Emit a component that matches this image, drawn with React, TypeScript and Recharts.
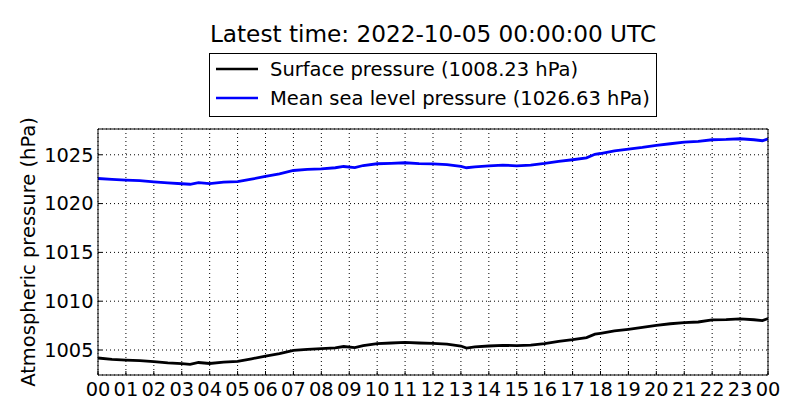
import React from 'react';
import { LineChart, Line, XAxis, YAxis, CartesianGrid, Legend } from 'recharts';

const hours = [
  0, 0.5, 1, 1.5, 2, 2.5, 3, 3.3, 3.6, 4, 4.5, 5, 5.5, 6, 6.5, 7, 7.5, 8, 8.5, 8.8,
  9.2, 9.5, 10, 10.5, 11, 11.5, 12, 12.5, 13, 13.2, 13.5, 14, 14.5, 15, 15.5, 16,
  16.5, 17, 17.5, 17.8, 18, 18.5, 19, 19.5, 20, 20.5, 21, 21.5, 22, 22.5, 23, 23.5,
  23.8, 24,
];

const surfacePressure = [
  1004.18, 1004.05, 1003.97, 1003.92, 1003.8, 1003.68, 1003.6, 1003.52, 1003.72, 1003.62,
  1003.75, 1003.84, 1004.1, 1004.38, 1004.62, 1004.97, 1005.07, 1005.14, 1005.22, 1005.36,
  1005.25, 1005.45, 1005.65, 1005.72, 1005.78, 1005.72, 1005.68, 1005.6, 1005.41, 1005.2,
  1005.33, 1005.41, 1005.48, 1005.44, 1005.5, 1005.65, 1005.89, 1006.06, 1006.27, 1006.62,
  1006.71, 1006.95, 1007.12, 1007.32, 1007.52, 1007.69, 1007.8, 1007.87, 1008.08, 1008.11,
  1008.18, 1008.1, 1008.02, 1008.23,
];

const meanSeaLevelPressure = [
  1022.57, 1022.48, 1022.4, 1022.35, 1022.22, 1022.12, 1022.03, 1021.98, 1022.15, 1022.05,
  1022.2, 1022.25, 1022.5, 1022.78, 1023.05, 1023.39, 1023.5, 1023.56, 1023.67, 1023.8,
  1023.68, 1023.9, 1024.08, 1024.12, 1024.18, 1024.1, 1024.07, 1024.0, 1023.8, 1023.67,
  1023.77, 1023.87, 1023.94, 1023.87, 1023.94, 1024.11, 1024.32, 1024.49, 1024.69, 1025.05,
  1025.13, 1025.41, 1025.58, 1025.75, 1025.96, 1026.13, 1026.3, 1026.37, 1026.54, 1026.57,
  1026.64, 1026.54, 1026.44, 1026.63,
];

const hourTicks = [
  0, 1, 2, 3, 4, 5, 6, 7, 8, 9, 10, 11, 12, 13, 14, 15, 16, 17, 18, 19, 20, 21, 22, 23, 24,
];
const hourLabels = [
  '00', '01', '02', '03', '04', '05', '06', '07', '08', '09', '10', '11', '12', '13', '14',
  '15', '16', '17', '18', '19', '20', '21', '22', '23', '00',
];
const pressureTicks = [1005, 1010, 1015, 1020, 1025];
const pressureDomain = [1002.44, 1027.64];
const seriesOrder = ['surface', 'msl'];

const titleText = 'Latest time: 2022-10-05 00:00:00 UTC';
const yLabelText = 'Atmospheric pressure (hPa)';

const data = hours.map((h, i) => ({
  hour: h,
  surface: surfacePressure[i],
  msl: meanSeaLevelPressure[i],
}));

const lastSurface = surfacePressure[surfacePressure.length - 1].toFixed(2);
const lastMsl = meanSeaLevelPressure[meanSeaLevelPressure.length - 1].toFixed(2);

const FONT = '"DejaVu Sans", Verdana, sans-serif';

function LegendBox(props: any) {
  const payload = props.payload || [];
  const ordered = seriesOrder
    .map((k) => payload.find((p: any) => p.dataKey === k))
    .filter(Boolean);
  return (
    <svg width={448} height={64} style={{ display: 'block' }}>
      <rect x={0.5} y={0.5} width={447} height={63} fill="#fff" stroke="#000" strokeWidth={1} />
      {ordered.map((p: any, i: number) => (
        <g key={i}>
          <line x1={7} x2={49} y1={16 + i * 29} y2={16 + i * 29} stroke={p.color} strokeWidth={2.5} />
          <text x={61} y={23 + i * 28.5} fontSize={19.5} fontFamily={FONT} fill="#000">
            {p.value}
          </text>
        </g>
      ))}
    </svg>
  );
}

export default function App() {
  return (
    <div style={{ position: 'absolute', left: 0, top: 0, width: 800, height: 420, background: '#fff' }}>
      <LineChart
        width={800}
        height={420}
        data={data}
        margin={{ top: 128, right: 31, bottom: 15, left: 38 }}
      >
        <CartesianGrid stroke="#000" strokeDasharray="1 3" strokeWidth={1} />
        <XAxis
          dataKey="hour"
          type="number"
          domain={[0, 24]}
          ticks={hourTicks}
          interval={0}
          tickFormatter={(v: number) => hourLabels[hourTicks.indexOf(v)]}
          height={30}
          tickSize={-4}
          tickMargin={11}
          axisLine={{ stroke: '#000', strokeWidth: 1 }}
          tickLine={{ stroke: '#000', strokeWidth: 1 }}
          tick={{ fill: '#000', fontSize: 19.4, fontFamily: FONT }}
        />
        <XAxis
          xAxisId="top"
          orientation="top"
          dataKey="hour"
          type="number"
          domain={[0, 24]}
          ticks={hourTicks}
          interval={0}
          height={1}
          tickSize={-4}
          tick={false}
          axisLine={{ stroke: '#000', strokeWidth: 1 }}
          tickLine={{ stroke: '#000', strokeWidth: 1 }}
        />
        <YAxis
          type="number"
          domain={pressureDomain}
          ticks={pressureTicks}
          interval={0}
          allowDataOverflow
          width={60}
          tickSize={-4}
          tickMargin={8.5}
          axisLine={{ stroke: '#000', strokeWidth: 1 }}
          tickLine={{ stroke: '#000', strokeWidth: 1 }}
          tick={{ fill: '#000', fontSize: 19.4, fontFamily: FONT }}
        />
        <YAxis
          yAxisId="right"
          orientation="right"
          type="number"
          domain={pressureDomain}
          ticks={pressureTicks}
          interval={0}
          allowDataOverflow
          width={1}
          tickSize={-4}
          tick={false}
          axisLine={{ stroke: '#000', strokeWidth: 1 }}
          tickLine={{ stroke: '#000', strokeWidth: 1 }}
        />
        <Legend
          layout="vertical"
          align="center"
          verticalAlign="middle"
          wrapperStyle={{ left: 209, top: 53, width: 448, height: 64 }}
          content={LegendBox}
        />
        <Line
          dataKey="surface"
          name={`Surface pressure (${lastSurface} hPa)`}
          type="linear"
          stroke="#000000"
          strokeWidth={2.8}
          dot={false}
          activeDot={false}
          isAnimationActive={false}
        />
        <Line
          dataKey="msl"
          name={`Mean sea level pressure (${lastMsl} hPa)`}
          type="linear"
          stroke="#0000ff"
          strokeWidth={2.8}
          dot={false}
          activeDot={false}
          isAnimationActive={false}
        />
      </LineChart>
      <svg
        width={800}
        height={420}
        style={{ position: 'absolute', left: 0, top: 0, pointerEvents: 'none' }}
      >
        <text x={433} y={42} textAnchor="middle" fontSize={23.2} fontFamily={FONT} fill="#000">
          {titleText}
        </text>
        <text
          x={0}
          y={0}
          transform="translate(35 252) rotate(-90)"
          textAnchor="middle"
          fontSize={19.5}
          fontFamily={FONT}
          fill="#000"
        >
          {yLabelText}
        </text>
      </svg>
    </div>
  );
}
